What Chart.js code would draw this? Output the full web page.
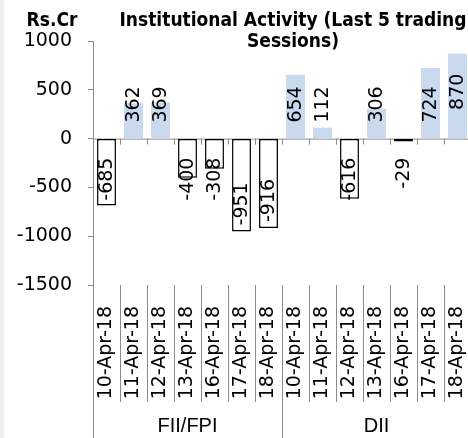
<!DOCTYPE html>
<html>
<head>
<meta charset="utf-8">
<script src="https://cdn.jsdelivr.net/npm/chart.js@4.4.1/dist/chart.umd.min.js"></script>
<style>
  html, body { margin: 0; padding: 0; background: #fff; overflow: hidden; }
  #wrap { position: relative; width: 471px; height: 438px; }
</style>
</head>
<body>
<div id="wrap"><canvas id="flows"></canvas></div>
<script>
// data
const dates = ['10-Apr-18', '11-Apr-18', '12-Apr-18', '13-Apr-18', '16-Apr-18', '17-Apr-18', '18-Apr-18'];
const groups = ['FII/FPI', 'DII'];
const fiiValues = [-685, 362, 369, -400, -308, -951, -916];
const diiValues = [654, 112, -616, 306, -29, 724, 870];
const yTicks = [-1500, -1000, -500, 0, 500, 1000];
const titleLines = ['Institutional Activity (Last 5 trading', 'Sessions)'];
const unitLabel = 'Rs.Cr';

const labels = dates.concat(dates);
const values = fiiValues.concat(diiValues);

const posColor = '#c9d9ee';
const lineColor = '#8c8c8c';
const tickFont = { family: 'DejaVu Sans', size: 19 };
const narrowBold = "bold 19px 'Liberation Sans Narrow', 'DejaVu Sans Condensed', sans-serif";

// everything Excel draws around the bars
const decorations = {
    id: 'decorations',
    beforeDraw(chart) {
        const ctx = chart.ctx;
        ctx.save();
        ctx.fillStyle = '#efefef';
        ctx.fillRect(0, 0, 4, chart.height);
        ctx.restore();
    },
    beforeDatasetsDraw(chart) {
        const ctx = chart.ctx;
        const x = chart.scales.x, y = chart.scales.y;
        const area = chart.chartArea;
        const y0 = y.getPixelForValue(0);
        const n = labels.length;
        const step = (area.right - area.left) / n;

        ctx.save();
        ctx.strokeStyle = lineColor;
        ctx.lineWidth = 1;
        // zero line
        ctx.beginPath();
        ctx.moveTo(area.left, y0 + 0.5);
        ctx.lineTo(area.right, y0 + 0.5);
        ctx.stroke();
        // category tick marks on zero line + separators under the plot
        for (let i = 0; i <= n; i++) {
            const bx = Math.round(x.getPixelForValue(0) - step / 2 + i * step) + 0.5;
            ctx.beginPath();
            ctx.moveTo(bx, y0);
            ctx.lineTo(bx, y0 + 6);
            ctx.stroke();
            const isGroup = i % dates.length === 0;
            ctx.beginPath();
            ctx.moveTo(bx, area.bottom);
            ctx.lineTo(bx, isGroup ? chart.height : 402);
            ctx.stroke();
        }
        ctx.restore();
    },
    afterDatasetsDraw(chart) {
        const ctx = chart.ctx;
        const x = chart.scales.x, y = chart.scales.y;
        const area = chart.chartArea;
        const y0 = y.getPixelForValue(0);
        const meta = chart.getDatasetMeta(0);
        const n = labels.length;
        const step = (area.right - area.left) / n;

        ctx.save();
        // value labels, rotated
        ctx.fillStyle = '#000';
        ctx.font = '19px "DejaVu Sans"';
        ctx.textAlign = 'center';
        ctx.textBaseline = 'middle';
        meta.data.forEach((bar, i) => {
            const v = values[i];
            const txt = String(v);
            const w = ctx.measureText(txt).width;
            let cy;
            if (v >= 0) {
                cy = Math.min(bar.y + 20 + w / 2, y0 - 16 - w / 2);
            } else {
                cy = Math.max(bar.y - 6 - w / 2, y0 + 19 + w / 2);
            }
            ctx.save();
            ctx.translate(bar.x + 1, cy);
            ctx.rotate(-Math.PI / 2);
            ctx.fillText(txt, 0, 0);
            ctx.restore();
        });

        // group names
        ctx.font = '20px "Liberation Sans", sans-serif';
        groups.forEach((g, gi) => {
            const left = x.getPixelForValue(gi * dates.length) - step / 2;
            const cx = left + step * dates.length / 2;
            ctx.fillText(g, cx, 426);
        });

        // title and unit
        ctx.font = narrowBold;
        ctx.fillText(titleLines[0], 293, 21);
        ctx.fillText(titleLines[1], 293, 42);
        ctx.fillText(unitLabel, 52, 21);

        // y axis continues down through the label area
        ctx.strokeStyle = lineColor;
        ctx.beginPath();
        ctx.moveTo(area.left + 0.5, area.bottom);
        ctx.lineTo(area.left + 0.5, chart.height);
        ctx.stroke();
        ctx.restore();
    }
};

new Chart(document.getElementById('flows'), {
    type: 'bar',
    data: {
        labels: labels,
        datasets: [{
            data: values,
            backgroundColor: values.map(v => v < 0 ? '#ffffff' : posColor),
            borderColor: values.map(v => v < 0 ? '#000000' : posColor),
            borderWidth: values.map(v => v < 0 ? 1.5 : 0),
            borderSkipped: false,
            barPercentage: 0.7,
            categoryPercentage: 1.0
        }]
    },
    options: {
        responsive: true,
        maintainAspectRatio: false,
        animation: false,
        layout: { padding: { top: 41, left: 0, right: 0, bottom: 0 } },
        plugins: {
            legend: { display: false },
            tooltip: { enabled: false },
            title: { display: false }
        },
        scales: {
            x: {
                grid: { display: false },
                border: { display: false },
                ticks: {
                    minRotation: 90,
                    maxRotation: 90,
                    autoSkip: false,
                    padding: 13,
                    color: '#000',
                    font: tickFont
                },
                afterFit(scale) {
                    scale.height = 153;
                    scale.paddingLeft = 0;
                    scale.paddingRight = 0;
                }
            },
            y: {
                min: -1500,
                max: 1000,
                border: { display: true, color: lineColor },
                grid: { drawOnChartArea: false, color: lineColor, tickLength: 5 },
                ticks: {
                    padding: 16,
                    color: '#000',
                    font: tickFont,
                    callback: v => String(v)
                },
                afterBuildTicks(scale) { scale.ticks = yTicks.map(v => ({ value: v })); },
                afterFit(scale) {
                    scale.width = 93;
                    scale.paddingTop = 0;
                    scale.paddingBottom = 0;
                }
            }
        }
    },
    plugins: [decorations]
});
</script>
</body>
</html>
